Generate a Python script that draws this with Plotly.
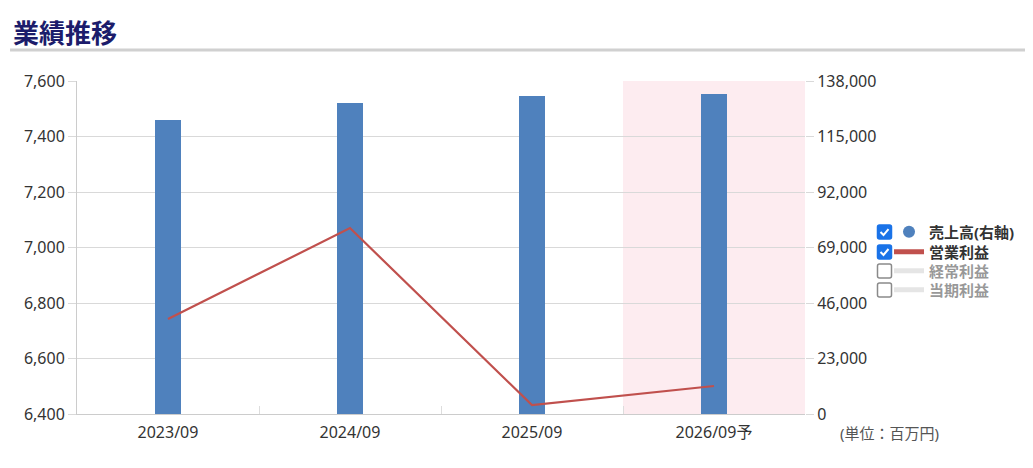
import plotly.graph_objects as go

# 決算期
kessanki = ["2023/09", "2024/09", "2025/09", "2026/09予"]

# 売上高（百万円）右軸
uriage = [121800, 128900, 131800, 132600]

# 営業利益（百万円）左軸
eigyo_rieki = [6742, 7070, 6432, 6501]

# 経常利益・当期利益 は非表示（値なし）
keijo_rieki = [None, None, None, None]
toki_rieki = [None, None, None, None]

FONT = "Noto Sans, Noto Sans CJK JP, sans-serif"

# 凡例の行位置（paper 座標）
rows_y = [0.5465, 0.4865, 0.4294, 0.3724]
LEG_X = 1.1154
BOX_X = 1.1092

fig = go.Figure()

# 売上高の棒（右側の軸 y を使う）
fig.add_trace(go.Bar(
    x=kessanki, y=uriage, yaxis="y",
    marker=dict(color="#4f81bd", line=dict(width=0)),
    width=0.143, showlegend=False, hoverinfo="y",
))
# 凡例用の丸マーカー
fig.add_trace(go.Scatter(
    x=[None], y=[None], yaxis="y", mode="markers",
    marker=dict(color="#4f81bd", size=14, symbol="circle"),
    name="<b>売上高(右軸)</b>", legend="legend",
))
# 営業利益（左側の軸 y2、棒より上に描画）
fig.add_trace(go.Scatter(
    x=kessanki, y=eigyo_rieki, yaxis="y2", mode="lines",
    line=dict(color="#c0504d", width=2.2),
    name="<b>営業利益</b>", legend="legend2",
))
fig.add_trace(go.Scatter(
    x=kessanki, y=keijo_rieki, yaxis="y2", mode="lines",
    line=dict(color="#cccccc", width=2.2),
    name="<b>経常利益</b>", visible="legendonly", legend="legend3",
))
fig.add_trace(go.Scatter(
    x=kessanki, y=toki_rieki, yaxis="y2", mode="lines",
    line=dict(color="#cccccc", width=2.2),
    name="<b>当期利益</b>", visible="legendonly", legend="legend4",
))

# 予想期の背景
fig.add_shape(type="rect", xref="x", yref="paper", x0=2.5, x1=3.5, y0=0, y1=1,
              fillcolor="#fdecf0", line=dict(width=0), layer="below")

# 見出しの下線
fig.add_shape(type="line", xref="paper", yref="paper", x0=-0.092, x1=1.33,
              y0=1.093, y1=1.093, line=dict(color="#d0d0d0", width=3))

# チェックボックス
checked = [True, True, False, False]
box = "M -5,-7 L 5,-7 Q 7,-7 7,-5 L 7,5 Q 7,7 5,7 L -5,7 Q -7,7 -7,5 L -7,-5 Q -7,-7 -5,-7 Z"
for yy, on in zip(rows_y, checked):
    fig.add_shape(type="path", xref="paper", yref="paper", xsizemode="pixel", ysizemode="pixel",
                  xanchor=BOX_X, yanchor=yy, path=box,
                  fillcolor="#1a73e8" if on else "white",
                  line=dict(color="#1a73e8" if on else "#8a8a8a", width=1.5))
    if on:
        fig.add_shape(type="path", xref="paper", yref="paper", xsizemode="pixel", ysizemode="pixel",
                      xanchor=BOX_X, yanchor=yy, path="M -4,0 L -1,-3 L 4,3",
                      line=dict(color="white", width=2))

fig.add_annotation(text="<b>業績推移</b>", xref="paper", yref="paper", x=-0.0907, y=1.144,
                   xanchor="left", yanchor="middle", showarrow=False,
                   font=dict(size=26, color="#1c1c6b", family=FONT))
fig.add_annotation(text="(単位：百万円)", xref="paper", yref="paper", x=1.045, y=-0.057,
                   xanchor="left", yanchor="middle", showarrow=False,
                   font=dict(size=15, color="#555555", family=FONT))

leg_common = dict(
    x=LEG_X, xanchor="left", yanchor="middle",
    font=dict(size=15, color="#333333", family=FONT),
    bgcolor="rgba(0,0,0,0)", itemsizing="constant",
)

fig.update_layout(
    width=1033, height=468,
    margin=dict(l=69, r=236, t=73, b=62),
    plot_bgcolor="white", paper_bgcolor="white",
    font=dict(family=FONT, size=16, color="#333333"),
    bargap=0,
    xaxis=dict(
        type="category", showgrid=False, showline=True, linecolor="#cccccc", linewidth=1,
        ticks="inside", tickson="boundaries", ticklen=8, tickcolor="#dddddd",
        ticklabelstandoff=4,
        tickfont=dict(size=16, color="#333333"), range=[-0.5, 3.5],
    ),
    yaxis=dict(
        side="right", range=[0, 138000], dtick=23000, tickformat=",d",
        showgrid=True, gridcolor="#d9d9d9", zeroline=False,
        ticks="outside", ticklen=8, tickcolor="#d9d9d9",
        tickfont=dict(size=16, color="#333333"),
    ),
    yaxis2=dict(
        side="left", overlaying="y", range=[6400, 7600], dtick=200, tickformat=",d",
        showgrid=False, zeroline=False, showline=True, linecolor="#cccccc",
        ticks="outside", ticklen=8, tickcolor="#d9d9d9",
        tickfont=dict(size=16, color="#333333"),
    ),
    legend=dict(y=rows_y[0], **leg_common),
    legend2=dict(y=rows_y[1], **leg_common),
    legend3=dict(y=rows_y[2], **leg_common),
    legend4=dict(y=rows_y[3], **leg_common),
)

fig.write_html("out.html")
